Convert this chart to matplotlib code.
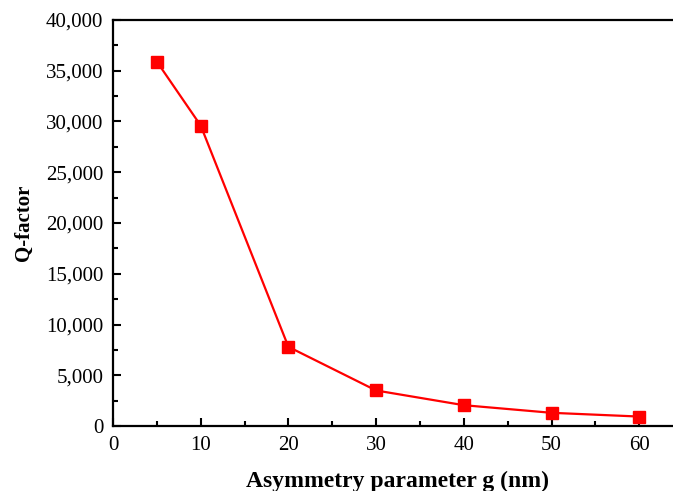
import matplotlib
matplotlib.use("Agg")
import matplotlib.pyplot as plt
from matplotlib.ticker import MultipleLocator, FuncFormatter

g_nm = [5, 10, 20, 30, 40, 50, 60]
q_factor = [35900, 29600, 7800, 3500, 2050, 1300, 930]

x_ticks = [0, 10, 20, 30, 40, 50, 60]
y_ticks = [0, 5000, 10000, 15000, 20000, 25000, 30000, 35000, 40000]

plt.rcParams['font.family'] = ['Liberation Serif', 'DejaVu Serif']

fig = plt.figure(figsize=(6.73, 4.91), dpi=100)
ax_w = 65 * 8.77
ax = fig.add_axes([113/673, 1 - 426/491, ax_w/673, (426 - 20)/491])

ax.plot(g_nm, q_factor, color='#ff0000', linewidth=1.6, marker='s',
        markersize=9, markerfacecolor='#ff0000', markeredgecolor='#ff0000', zorder=3)

ax.set_xlim(0, 65)
ax.set_ylim(0, 40000)
ax.set_xticks(x_ticks)
ax.set_yticks(y_ticks)
ax.xaxis.set_minor_locator(MultipleLocator(5))
ax.yaxis.set_minor_locator(MultipleLocator(2500))
ax.yaxis.set_major_formatter(FuncFormatter(lambda v, p: f"{int(v):,}"))

ax.tick_params(which='both', direction='in', width=1.5, labelsize=15, colors='black')
ax.tick_params(which='major', length=6, pad=7)
ax.tick_params(which='minor', length=3.5)
ax.tick_params(top=False, right=False)

for s in ['left', 'bottom', 'top']:
    ax.spines[s].set_linewidth(1.6)
ax.spines['right'].set_visible(False)

ax.set_xlabel('Asymmetry parameter g (nm)', fontsize=17, fontweight='bold')
ax.set_ylabel('Q-factor', fontsize=15, fontweight='bold')
ax.xaxis.set_label_coords((398 - 113) / ax_w, -(471 - 426) / 406)
ax.yaxis.set_label_coords((34 - 113) / ax_w, 0.5)

fig.savefig('out.png', dpi=100)
